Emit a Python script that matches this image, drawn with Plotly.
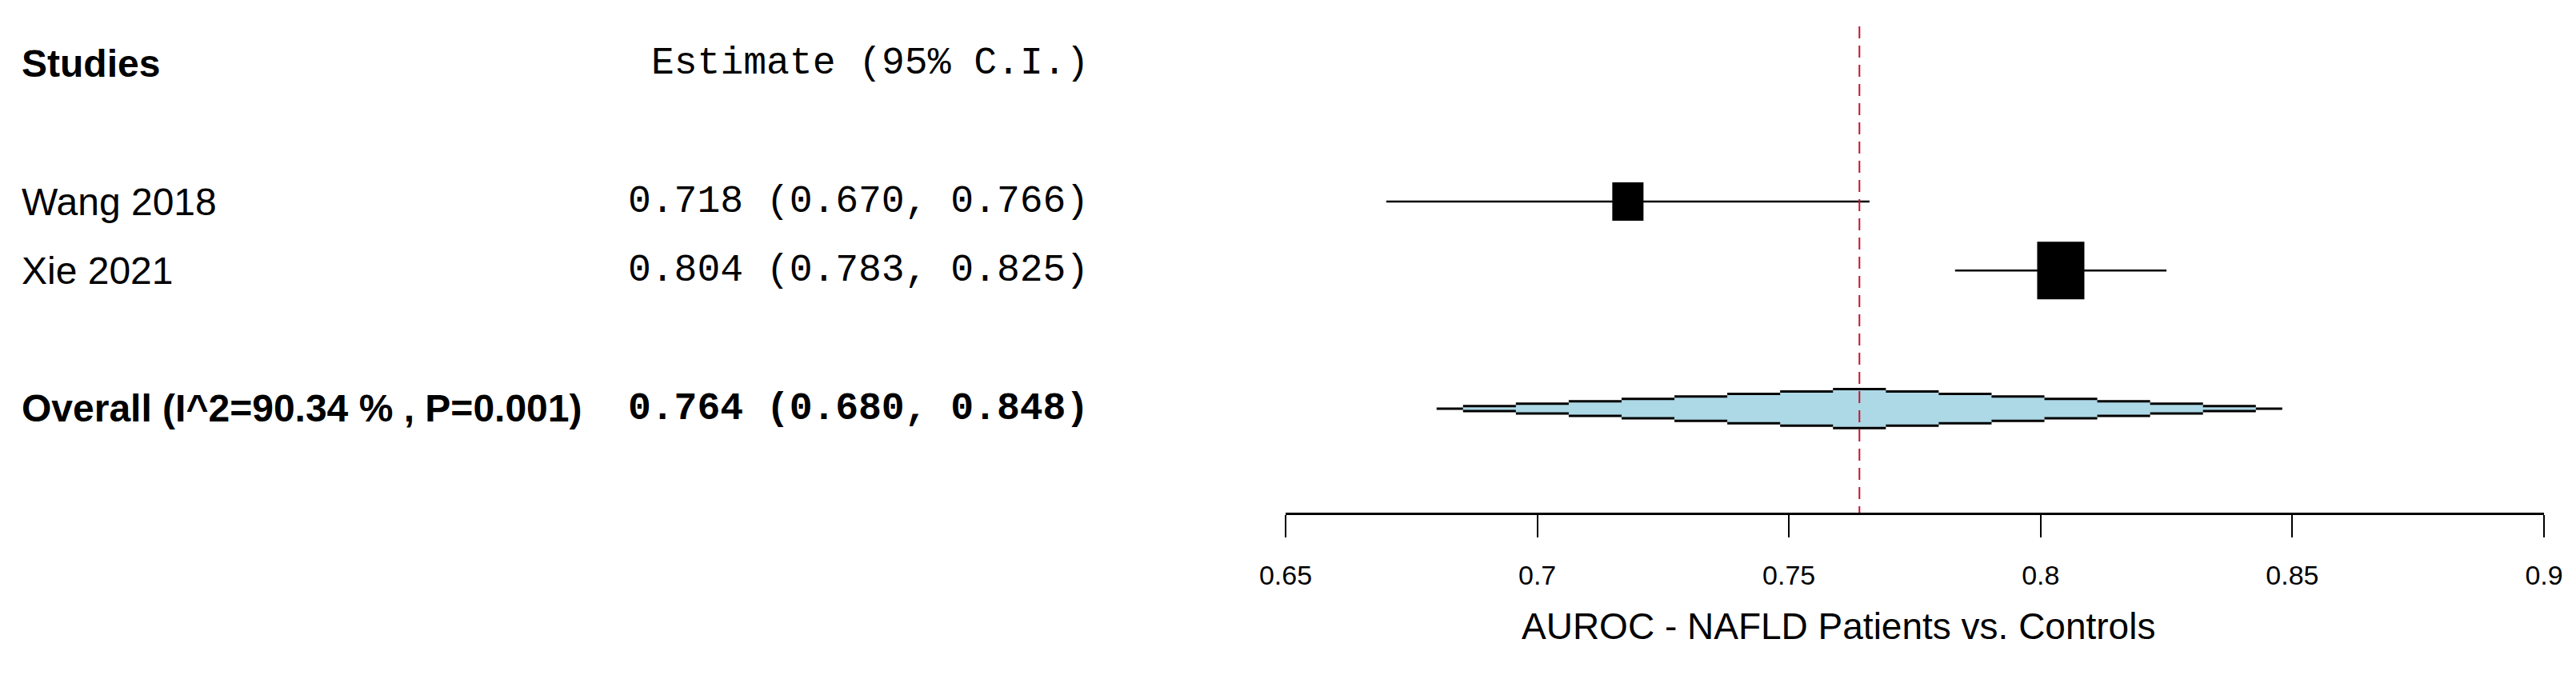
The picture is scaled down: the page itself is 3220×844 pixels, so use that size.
import plotly.graph_objects as go

# study-level AUROC estimates
studies = ["Wang 2018", "Xie 2021"]
estimates = [0.718, 0.804]
ci_lower = [0.670, 0.783]
ci_upper = [0.766, 0.825]

# pooled (random effects) result
pooled = 0.764
pooled_lower = 0.680
pooled_upper = 0.848
i2 = 90.34
p_het = 0.001

tick_vals = [0.65, 0.70, 0.75, 0.80, 0.85, 0.90]
tick_labels = ["0.65", "0.7", "0.75", "0.8", "0.85", "0.9"]

# ---- layout constants, measured in pixels of the 3220x844 reference ----
# the page body adds an 8px margin, so the figure is shrunk and shifted by it
OFF = 8
W, H = 3220 - OFF, 844 - OFF
AX_L, AX_R = 1607 - OFF, 3180 - OFF   # x-axis ends
AX_Y = 641 - OFF                       # x-axis line
ROW0, ROW_PX = 79.4 - OFF, 86.3        # pixel y of row 0, pixels per row
X_PX = (AX_R - AX_L) / (tick_vals[-1] - tick_vals[0])

header_row, study_rows, overall_row = 0, [2, 3], 5
box_w_px = [39, 59]
box_h_px = [48, 72]
diamond_half_h_px = 24.4
diamond_steps = 8

SANS = "Liberation Sans, Arial, sans-serif"
MONO = "Liberation Mono, Courier New, monospace"
FS = 48


def row_of(py):
    return (py - ROW0) / ROW_PX


fig = go.Figure()

# confidence interval lines
for r, lo, hi in zip(study_rows, ci_lower, ci_upper):
    fig.add_trace(go.Scatter(x=[lo, hi], y=[r, r], mode="lines",
                             line=dict(color="black", width=2.4),
                             hoverinfo="skip", showlegend=False))

# weight boxes
for r, est, bw, bh in zip(study_rows, estimates, box_w_px, box_h_px):
    hw = bw / 2 / X_PX
    hh = bh / 2 / ROW_PX
    fig.add_shape(type="rect", xref="x", yref="y",
                  x0=est - hw, x1=est + hw, y0=r - hh, y1=r + hh,
                  fillcolor="black", line=dict(width=0))

# stepped diamond for the pooled estimate
sl = (pooled - pooled_lower) / diamond_steps
sr = (pooled_upper - pooled) / diamond_steps
hmax = diamond_half_h_px / ROW_PX
segs = [(pooled_lower, pooled - (diamond_steps - 0.5) * sl, 0.0)]
for k in range(diamond_steps - 1, 0, -1):
    segs.append((pooled - (k + 0.5) * sl, pooled - (k - 0.5) * sl,
                 hmax * (diamond_steps - k) / diamond_steps))
segs.append((pooled - 0.5 * sl, pooled + 0.5 * sr, hmax))
for k in range(1, diamond_steps):
    segs.append((pooled + (k - 0.5) * sr, pooled + (k + 0.5) * sr,
                 hmax * (diamond_steps - k) / diamond_steps))
segs.append((pooled + (diamond_steps - 0.5) * sr, pooled_upper, 0.0))

px_, py_ = [], []
for x0, x1, h in segs:
    px_ += [x0, x1]
    py_ += [overall_row - h, overall_row - h]
for x0, x1, h in reversed(segs):
    px_ += [x1, x0]
    py_ += [overall_row + h, overall_row + h]
fig.add_trace(go.Scatter(x=px_, y=py_, mode="lines", fill="toself",
                         fillcolor="#ADD8E6", line=dict(width=0),
                         hoverinfo="skip", showlegend=False))

ox, oy = [], []
for x0, x1, h in segs:
    if h == 0:
        ox += [x0, x1, None]
        oy += [overall_row, overall_row, None]
    else:
        ox += [x0, x1, None, x0, x1, None]
        oy += [overall_row - h, overall_row - h, None,
               overall_row + h, overall_row + h, None]
fig.add_trace(go.Scatter(x=ox, y=oy, mode="lines",
                         line=dict(color="black", width=3),
                         hoverinfo="skip", showlegend=False))

# pooled estimate reference line
fig.add_trace(go.Scatter(x=[pooled, pooled], y=[row_of(33 - OFF), row_of(AX_Y)],
                         mode="lines",
                         line=dict(color="#C8102E", width=2, dash="15px,9px"),
                         hoverinfo="skip", showlegend=False))

# left-hand text columns
LX = (25 - OFF) / W
RX = (1363 - OFF) / W


def label(text, x, r, anchor, family, bold=False):
    fig.add_annotation(
        text=f"<b>{text}</b>" if bold else text,
        xref="paper", yref="y", x=x, y=r, xanchor=anchor, yanchor="middle",
        showarrow=False, font=dict(family=family, size=FS, color="black"))


label("Studies", LX, header_row, "left", SANS, bold=True)
label("Estimate (95% C.I.)", RX, header_row, "right", MONO)
for name, r, est, lo, hi in zip(studies, study_rows, estimates, ci_lower, ci_upper):
    label(name, LX, r, "left", SANS)
    label(f"{est:.3f} ({lo:.3f}, {hi:.3f})", RX, r, "right", MONO)
label(f"Overall (I^2={i2:.2f} % , P={p_het:.3f})", LX, overall_row, "left", SANS, bold=True)
label(f"{pooled:.3f} ({pooled_lower:.3f}, {pooled_upper:.3f})", RX, overall_row, "right", MONO, bold=True)

# axis title
fig.add_annotation(text="AUROC - NAFLD Patients vs. Controls",
                   xref="paper", yref="paper", x=(2298 - OFF) / W, y=1 - (783 - OFF) / H,
                   xanchor="center", yanchor="middle", showarrow=False,
                   font=dict(family=SANS, size=46, color="black"))

fig.update_layout(
    width=W, height=H,
    margin=dict(l=0, r=0, t=0, b=0, pad=0, autoexpand=False),
    paper_bgcolor="white", plot_bgcolor="white",
    showlegend=False,
    xaxis=dict(domain=[AX_L / W, AX_R / W], range=[tick_vals[0], tick_vals[-1]],
               tickvals=tick_vals, ticktext=tick_labels, automargin=False,
               showline=True, linecolor="black", linewidth=3,
               ticks="outside", ticklen=28, tickwidth=2, tickcolor="black",
               showgrid=False, zeroline=False, ticklabelstandoff=18,
               tickfont=dict(family=SANS, size=34, color="black")),
    yaxis=dict(domain=[1 - AX_Y / H, 1], range=[row_of(AX_Y), row_of(0)],
               visible=False, showgrid=False, zeroline=False, automargin=False),
)

fig.write_html("out.html")
